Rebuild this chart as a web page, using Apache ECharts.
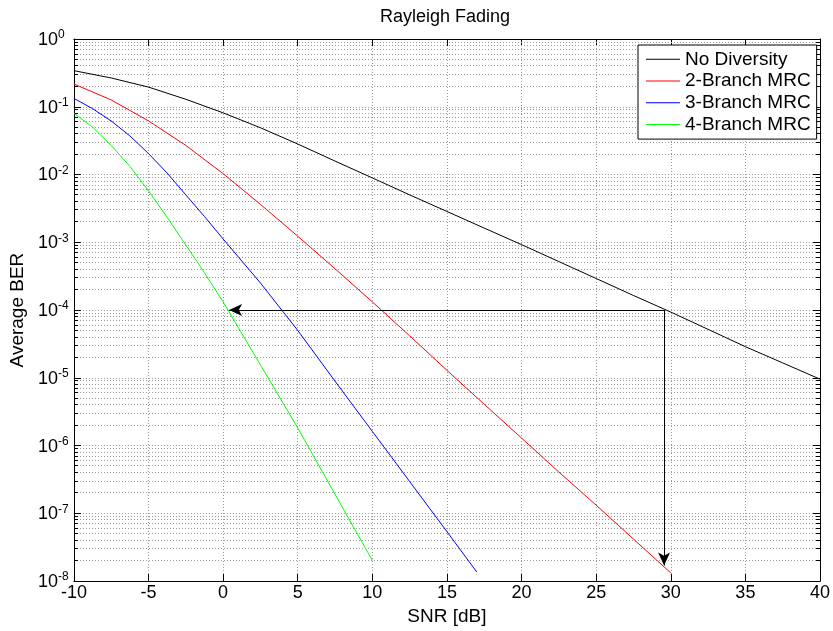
<!DOCTYPE html>
<html>
<head>
<meta charset="utf-8">
<title>Rayleigh Fading</title>
<script src="https://cdn.jsdelivr.net/npm/echarts@6/dist/echarts.min.js"></script>
<style>
  html, body { margin: 0; padding: 0; background: #ffffff; }
  #chart { width: 833px; height: 631px; }
</style>
</head>
<body>
<div id="chart"></div>
<script>
// Average BER of BPSK over Rayleigh fading, with and without MRC diversity.
const snrNoDiv = [-10, -7.5, -5, -2.5, 0, 2.5, 5, 7.5, 10, 12.5, 15, 17.5, 20, 22.5, 25, 27.5, 30, 32.5, 35, 37.5, 40];
const berNoDiv = [0.341, 0.266, 0.195, 0.129, 0.0813, 0.0490, 0.0282, 0.0158, 0.00891, 0.00501, 0.00285, 0.00162,
                  9.23e-4, 5.19e-4, 2.92e-4, 1.64e-4, 9.33e-5, 5.19e-5, 2.88e-5, 1.66e-5, 9.55e-6];

const snrMrc2 = [-10, -7.5, -5, -2.5, 0, 2.5, 5, 7.5, 10, 12.5, 15, 17.5, 20, 22.5, 25, 27.5, 30];
const berMrc2 = [0.217, 0.126, 0.0619, 0.0269, 0.0103, 3.63e-3, 1.23e-3, 4.07e-4, 1.32e-4, 4.17e-5, 1.29e-5,
                 4.07e-6, 1.29e-6, 4.07e-7, 1.32e-7, 4.17e-8, 1.32e-8];

const snrMrc3 = [-10, -8.75, -7.5, -6.25, -5, -3.75, -2.5, -1.25, 0, 2.5, 5, 7.5, 10, 12.5, 15, 17];
const berMrc3 = [0.133, 0.0938, 0.0617, 0.0372, 0.0204, 0.0105, 5.01e-3, 2.40e-3, 1.12e-3, 2.51e-4, 5.01e-5,
                 8.91e-6, 1.62e-6, 2.95e-7, 5.37e-8, 1.36e-8];

const snrMrc4 = [-10, -8.75, -7.5, -6.25, -5, -3.75, -2.5, -1.25, 0, 2.5, 5, 7.5, 10];
const berMrc4 = [0.0802, 0.0501, 0.0269, 0.0132, 5.75e-3, 2.34e-3, 9.12e-4, 3.55e-4, 1.32e-4, 1.55e-5, 1.82e-6,
                 1.91e-7, 2.02e-8];

const seriesNames = ['No Diversity', '2-Branch MRC', '3-Branch MRC', '4-Branch MRC'];
const seriesColors = ['#000000', '#ff0000', '#0000ff', '#00ff00'];

// Axis ticks
const xTicks = [-10, -5, 0, 5, 10, 15, 20, 25, 30, 35, 40];
const yTickExponents = [0, -1, -2, -3, -4, -5, -6, -7, -8];
const minorMultipliers = [2, 3, 4, 5, 6, 7, 8, 9];

// Annotation: required SNR for BER = 1e-4, no diversity vs. 4-branch MRC
const arrowStart = [29.55, 1e-4];
const arrowEndLeft = [0.4, 1e-4];
const arrowEndDown = [29.55, 1.7e-8];

const FONT = '"Liberation Sans", Arial, Helvetica, sans-serif';
const xMin = xTicks[0], xMax = xTicks[xTicks.length - 1];
const yMinExp = Math.min.apply(null, yTickExponents), yMaxExp = Math.max.apply(null, yTickExponents);

function pairs(xs, ys) { return xs.map((x, i) => [x, ys[i]]); }

// minor decade lines (2..9 x 10^k)
const minorRows = [];
for (let e = yMinExp; e < yMaxExp; e++) {
  minorMultipliers.forEach(m => minorRows.push([xMin, m * Math.pow(10, e)]));
}

function crisp(v) { return Math.round(v - 0.5) + 0.5; }

const gridLine = { color: '#999999', type: [1, 2], width: 1 };

const baseX = {
  type: 'value', min: xMin, max: xMax, interval: 5,
  axisLine: { onZero: false, lineStyle: { color: '#000', width: 1 } },
  axisTick: { inside: true, length: 7, lineStyle: { color: '#000', width: 1 } }
};
const baseY = {
  type: 'log', logBase: 10, min: Math.pow(10, yMinExp), max: Math.pow(10, yMaxExp), splitNumber: 8,
  axisLine: { onZero: false, lineStyle: { color: '#000', width: 1 } },
  axisTick: { inside: true, length: 7, lineStyle: { color: '#000', width: 1 } }
};

const lineSeries = [
  [snrNoDiv, berNoDiv], [snrMrc2, berMrc2], [snrMrc3, berMrc3], [snrMrc4, berMrc4]
].map((s, i) => ({
  name: seriesNames[i],
  type: 'line',
  data: pairs(s[0], s[1]),
  showSymbol: false,
  symbol: 'none',
  z: 3,
  lineStyle: { color: seriesColors[i], width: 1 },
  itemStyle: { color: seriesColors[i] },
  emphasis: { disabled: true }
}));

lineSeries[0].markLine = {
  silent: true,
  animation: false,
  symbol: ['none', 'arrow'],
  label: { show: false },
  emphasis: { disabled: true },
  lineStyle: { color: '#000', width: 1, type: 'solid' },
  data: [
    [{ coord: arrowStart, symbol: 'none' }, { coord: arrowEndLeft, symbol: 'arrow', symbolSize: [9, 13] }],
    [{ coord: arrowStart, symbol: 'none' }, { coord: arrowEndDown, symbol: 'arrow', symbolSize: [9, 13] }]
  ]
};

const minorSeries = {
  type: 'custom',
  silent: true,
  z: 1,
  xAxisIndex: 0,
  yAxisIndex: 0,
  data: minorRows,
  renderItem: function (params, api) {
    const v = api.value(1);
    const a = api.coord([xMin, v]);
    const b = api.coord([xMax, v]);
    const y = crisp(a[1]);
    const x0 = Math.round(a[0]), x1 = Math.round(b[0]);
    return {
      type: 'group',
      children: [
        { type: 'line', shape: { x1: x0, y1: y, x2: x1, y2: y },
          style: { stroke: gridLine.color, lineWidth: 1, lineDash: [1, 2] } },
        { type: 'line', shape: { x1: x0, y1: y, x2: x0 + 4, y2: y },
          style: { stroke: '#000', lineWidth: 1 } },
        { type: 'line', shape: { x1: x1 - 4, y1: y, x2: x1, y2: y },
          style: { stroke: '#000', lineWidth: 1 } }
      ]
    };
  }
};

const option = {
  animation: false,
  backgroundColor: '#ffffff',
  title: {
    text: 'Rayleigh Fading',
    left: 440, top: 3, textAlign: 'center',
    textStyle: { fontFamily: FONT, fontSize: 18, fontWeight: 'normal', color: '#000' }
  },
  legend: {
    orient: 'vertical',
    left: 638, top: 45,
    icon: 'rect',
    itemWidth: 34, itemHeight: 1, itemGap: 1.7,
    padding: [4.3, 6, 4.7, 8],
    borderColor: '#000', borderWidth: 1, backgroundColor: '#fff',
    selectedMode: false,
    data: seriesNames,
    textStyle: { fontFamily: FONT, fontSize: 19, lineHeight: 20, color: '#000' }
  },
  grid: { left: 70, right: 13, top: 39, bottom: 43 },
  xAxis: [
    Object.assign({}, baseX, {
      position: 'bottom',
      axisLabel: { fontFamily: FONT, fontSize: 18, color: '#000', margin: 3 },
      splitLine: { show: true, lineStyle: gridLine },
      name: 'SNR [dB]', nameLocation: 'middle', nameGap: 25,
      nameTextStyle: { fontFamily: FONT, fontSize: 19, color: '#000' }
    }),
    Object.assign({}, baseX, {
      position: 'top',
      axisLabel: { show: false },
      splitLine: { show: false }
    })
  ],
  yAxis: [
    Object.assign({}, baseY, {
      position: 'left',
      axisLabel: {
        align: 'left', margin: 36,
        formatter: function (value) {
          const e = Math.round(Math.log10(value));
          if (yTickExponents.indexOf(e) < 0) return '';
          return '{b|10}{s|' + e + '}';
        },
        rich: {
          b: { fontFamily: FONT, fontSize: 18, color: '#000', lineHeight: 20, verticalAlign: 'bottom' },
          s: { fontFamily: FONT, fontSize: 12, color: '#000', lineHeight: 14, verticalAlign: 'top' }
        }
      },
      splitLine: { show: true, lineStyle: gridLine },
      name: 'Average BER', nameLocation: 'middle', nameGap: 40, nameRotate: 90,
      nameTextStyle: { fontFamily: FONT, fontSize: 19, color: '#000' }
    }),
    Object.assign({}, baseY, {
      position: 'right',
      axisLabel: { show: false },
      splitLine: { show: false }
    })
  ],
  series: [minorSeries].concat(lineSeries)
};

const chart = echarts.init(document.getElementById('chart'), null, { renderer: 'canvas', width: 833, height: 631 });
chart.setOption(option);
</script>
</body>
</html>
